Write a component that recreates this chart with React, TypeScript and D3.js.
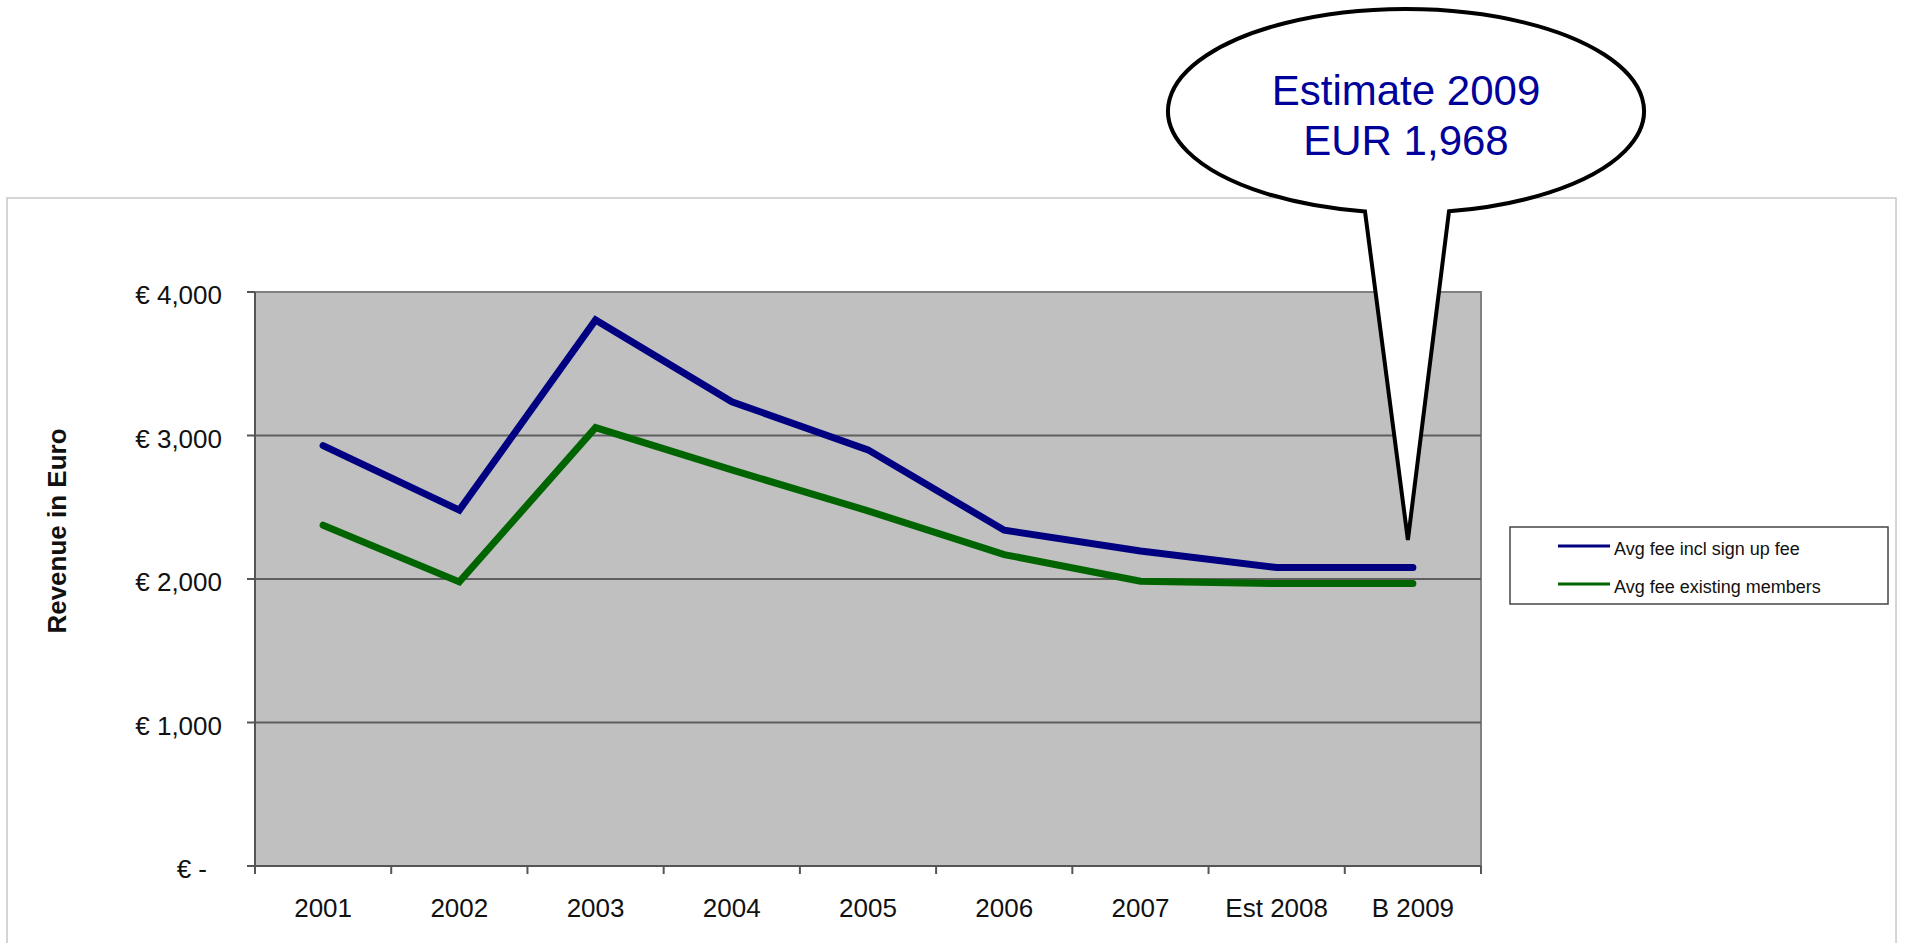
import React from 'react';
import * as d3 from 'd3';

const categories = ['2001', '2002', '2003', '2004', '2005', '2006', '2007', 'Est 2008', 'B 2009'];
const feeInclSignUp = [2930, 2480, 3805, 3235, 2900, 2340, 2195, 2080, 2080];
const feeExisting = [2375, 1980, 3055, 2760, 2475, 2170, 1985, 1968, 1968];
const yTicks = [0, 1000, 2000, 3000, 4000];
const seriesNames = ['Avg fee incl sign up fee', 'Avg fee existing members'];
const seriesColors = ['#000080', '#006400'];
const calloutLines = ['Estimate 2009', 'EUR 1,968'];

const FONT = '"Liberation Sans", Arial, sans-serif';
const W = 1906;
const H = 943;

// plot box
const left = 255;
const right = 1481;
const top = 292;
const bottom = 866;

export default function App() {
  const x = d3.scaleBand<string>().domain(categories).range([left, right]).padding(0);
  const y = d3.scaleLinear().domain([0, 4000]).range([bottom, top]);
  const cx = (c: string) => (x(c) as number) + x.bandwidth() / 2;

  const line = d3.line<number>()
    .x((_, i) => cx(categories[i]))
    .y((d) => y(d));

  const series = [feeInclSignUp, feeExisting];
  const fmt = (v: number) => (v === 0 ? '€ -' : '€ ' + d3.format(',')(v));

  // boundaries between categories for x ticks
  const xTickPos = categories.map((c) => x(c) as number).concat([right]);

  // callout geometry (ellipse + wedge pointing at last category)
  const ecx = 1406, ecy = 111, rx = 238, ry = 102;
  const baseL = 1365, baseR = 1449;
  const onEllipse = (px: number) => ecy + ry * Math.sqrt(1 - ((px - ecx) / rx) ** 2);
  const tipX = cx('B 2009') - 5;
  const tipY = y(2272);
  const callout = `M${baseL},${onEllipse(baseL)} L${tipX},${tipY} L${baseR},${onEllipse(baseR)} ` +
    `A${rx},${ry} 0 1 0 ${baseL},${onEllipse(baseL)} Z`;

  const legendX = 1510, legendY = 527;

  return (
    <svg width={W} height={H} style={{ position: 'absolute', left: 0, top: 0, background: '#fff' }}
      fontFamily={FONT}>
      {/* outer chart frame */}
      <rect x={7} y={198} width={1889} height={800} fill="#fff" stroke="#c8c8c8" strokeWidth={1.5} />

      {/* plot area */}
      <rect x={left} y={top} width={right - left} height={bottom - top} fill="#c0c0c0" stroke="#808080" strokeWidth={2} />

      {/* gridlines */}
      {yTicks.filter((t) => t > 0 && t < 4000).map((t) => (
        <line key={t} x1={left} x2={right} y1={y(t)} y2={y(t)} stroke="#5e5e5e" strokeWidth={2} />
      ))}

      {/* y axis */}
      <line x1={left} x2={left} y1={top} y2={bottom} stroke="#555" strokeWidth={2} />
      {yTicks.map((t) => (
        <g key={t}>
          <line x1={left - 8} x2={left} y1={y(t)} y2={y(t)} stroke="#555" strokeWidth={2} />
          <text x={t === 0 ? 207 : 222} y={y(t) + 12} textAnchor="end" fontSize={26} fill="#111">{fmt(t)}</text>
        </g>
      ))}

      {/* x axis */}
      <line x1={left} x2={right} y1={bottom} y2={bottom} stroke="#555" strokeWidth={2} />
      {xTickPos.map((p, i) => (
        <line key={i} x1={p} x2={p} y1={bottom} y2={bottom + 8} stroke="#555" strokeWidth={2} />
      ))}
      {categories.map((c) => (
        <text key={c} x={cx(c)} y={917} textAnchor="middle" fontSize={26} fill="#111">{c}</text>
      ))}

      {/* axis title */}
      <text transform={`translate(66,${(top + bottom) / 2 - 48}) rotate(-90)`} textAnchor="middle"
        fontSize={26} fontWeight="bold" fill="#111">Revenue in Euro</text>

      {/* series */}
      {series.map((s, i) => (
        <path key={i} d={line(s) as string} fill="none" stroke={seriesColors[i]} strokeWidth={7}
          strokeLinejoin="miter" strokeLinecap="round" />
      ))}

      {/* legend */}
      <rect x={legendX} y={legendY} width={378} height={77} fill="#fff" stroke="#444" strokeWidth={1.5} />
      {seriesNames.map((n, i) => (
        <g key={n}>
          <line x1={legendX + 48} x2={legendX + 100} y1={legendY + 19 + i * 38} y2={legendY + 19 + i * 38}
            stroke={seriesColors[i]} strokeWidth={3} />
          <text x={legendX + 104} y={legendY + 19 + i * 38 + 9} fontSize={18} fill="#111">{n}</text>
        </g>
      ))}

      {/* callout */}
      <path d={callout} fill="#fff" stroke="#000" strokeWidth={4} strokeLinejoin="miter" />
      {calloutLines.map((t, i) => (
        <text key={t} x={ecx} y={105 + i * 50} textAnchor="middle" fontSize={42} fill="#00009a">{t}</text>
      ))}
    </svg>
  );
}
